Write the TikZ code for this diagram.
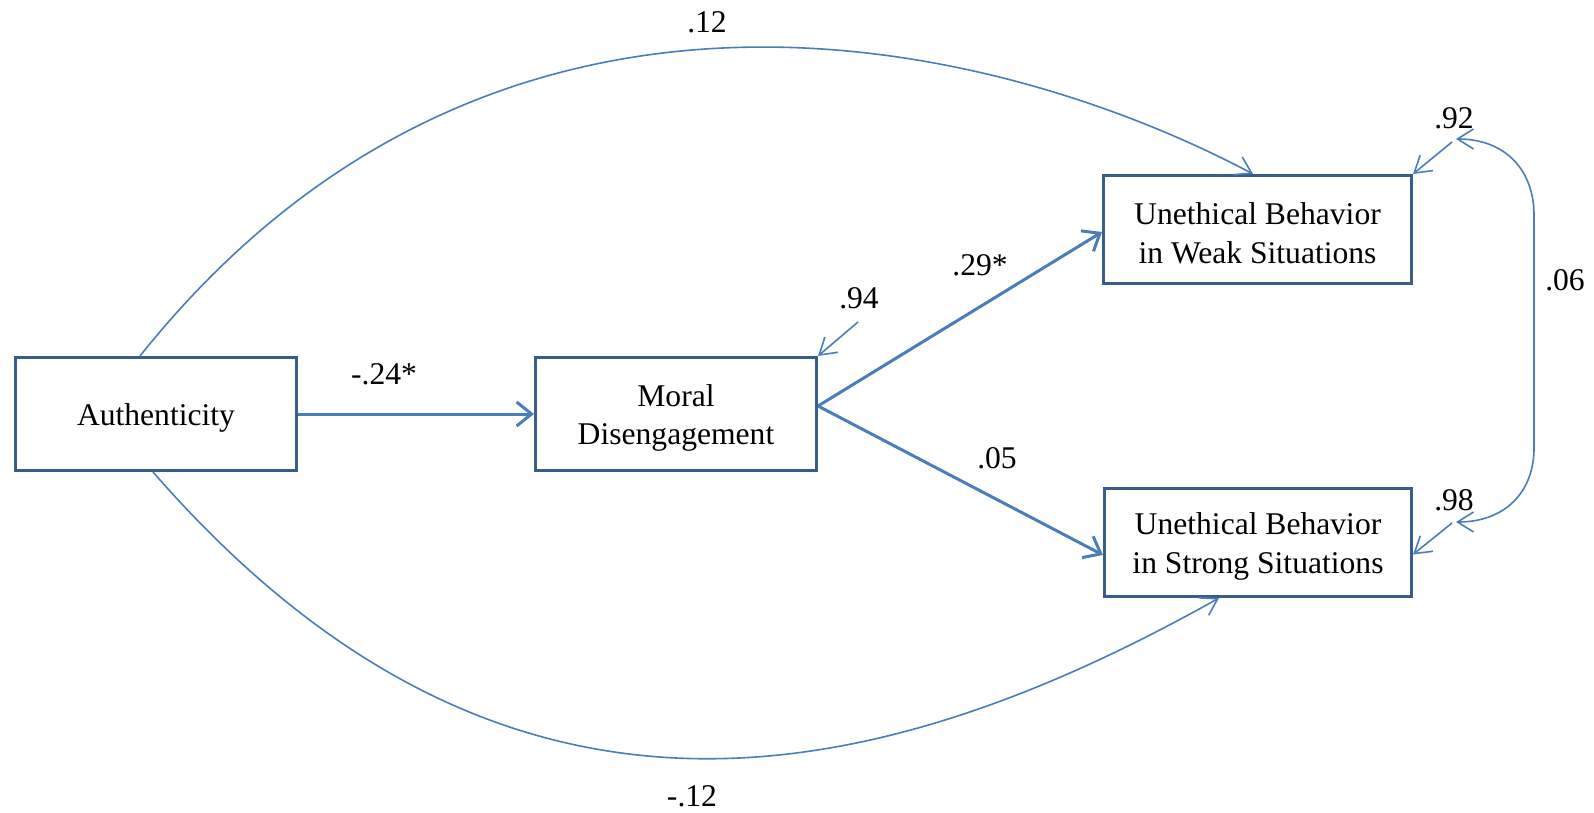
\documentclass[tikz,border=0pt]{standalone}
\usepackage{fontspec}
\setmainfont{Liberation Serif}
\usetikzlibrary{arrows.meta,calc}
\definecolor{boxblue}{RGB}{56,93,138}
\definecolor{lineblue}{RGB}{74,126,187}
\newcommand{\topstrut}{\rule{0pt}{30pt}}
\begin{document}
\begin{tikzpicture}[x=1pt,y=-1pt,
  every node/.style={font=\fontsize{31.6}{38.6}\selectfont},
  varbox/.style={draw=boxblue, line width=3pt, align=center, inner sep=0pt, fill=white},
  thickpath/.style={draw=lineblue, line width=3pt, -{Straight Barb[length=15pt,width=24pt]}},
  thinpath/.style={draw=lineblue, line width=1.6pt, -{Straight Barb[length=16pt,width=20pt]}},
  covpath/.style={draw=lineblue, line width=1.6pt, {Straight Barb[length=16pt,width=20pt]}-{Straight Barb[length=16pt,width=20pt]}},
  lbl/.style={inner sep=0pt}]
\fill[white] (0,0) rectangle (1594,813);
\useasboundingbox (0,0) rectangle (1594,813);

% variables
\node[varbox, minimum width=281pt, minimum height=113pt] (auth) at (156,414) {\topstrut Authenticity};
\node[varbox, minimum width=281pt, minimum height=113pt] (moral) at (676,414) {\topstrut Moral\\Disengagement};
\node[varbox, minimum width=308pt, minimum height=108pt] (weak) at (1257.5,229.5) {\topstrut Unethical Behavior\\in Weak Situations};
\node[varbox, minimum width=307pt, minimum height=108pt] (strong) at (1258,542.5) {\topstrut Unethical Behavior\\in Strong Situations};

% direct paths
\draw[thickpath] (auth.east) -- (moral.west);
\draw[thickpath] ($(moral.east)+(0,-8)$) -- ($(weak.west)+(0,2.5)$);
\draw[thickpath] ($(moral.east)+(0,-8)$) -- ($(strong.west)+(0,12.5)$);

% curved paths
\draw[thinpath] ($(auth.north)+(-16,0)$) .. controls (500,-95) and (1010,45) .. ($(weak.north)+(-4.5,0)$);
\draw[thinpath] ($(auth.south)+(-3,0)$) .. controls (490,859) and (850,805) .. ($(strong.south)+(-39,0)$);

% error terms
\coordinate (e94) at (858,322);
\coordinate (e92) at (1452,142);
\coordinate (e98) at (1452,523);
\draw[thinpath] (e94) -- (moral.north east);
\draw[thinpath] (e92) -- (weak.north east);
\draw[thinpath] (e98) -- ($(strong.east)+(0,12)$);

% covariance
\coordinate (covA) at (1456,139);
\coordinate (covB) at (1456,522);
\draw[covpath] (covA) .. controls (1505,139) and (1534,170) .. (1534,215) -- (1534,448) .. controls (1534,492) and (1505,522) .. (covB);

% labels
\node[lbl] (l12) at (707,22) {.12};
\node[lbl] (l24) at (384,374) {-.24*};
\node[lbl] (l94) at (859,298) {.94};
\node[lbl] (l29) at (980,265) {.29*};
\node[lbl] (l05) at (997,458) {.05};
\node[lbl] (l92) at (1454,118) {.92};
\node[lbl] (l98) at (1454,500) {.98};
\node[lbl] (l06) at (1565,280) {.06};
\node[lbl] (lm12) at (692,796) {-.12};
\end{tikzpicture}
\end{document}
